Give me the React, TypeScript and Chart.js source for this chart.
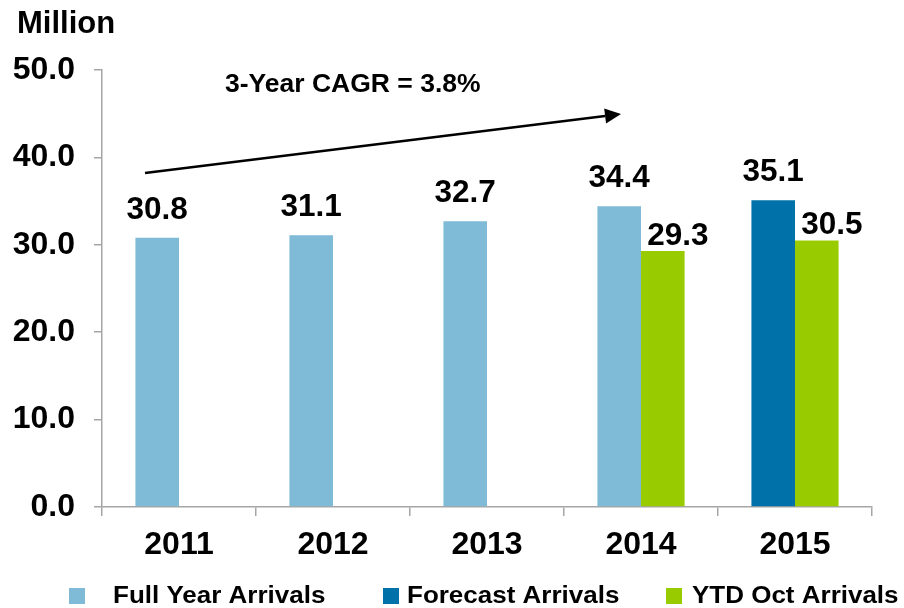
import React, { useEffect, useRef } from "react";
import { Chart, registerables } from "chart.js";

Chart.register(...registerables);

const categories = ["2011", "2012", "2013", "2014", "2015"];
const fullYearArrivals = [30.8, 31.1, 32.7, 34.4, null];
const forecastArrivals = [null, null, null, null, 35.1];
const ytdOctArrivals = [null, null, null, 29.3, 30.5];
const seriesNames = ["Full Year Arrivals", "Forecast Arrivals", "YTD Oct Arrivals"];
const seriesColors = ["#7FBAD7", "#0071A9", "#99CC00"];
const yTitle = "Million";
const cagrText = "3-Year CAGR = 3.8%";

const FONT = "'Liberation Sans', Arial, Helvetica, sans-serif";
const AXIS_COLOR = "#A6A6A6";

const overlayPlugin = {
  id: "overlay",
  afterDraw(chart: any) {
    const ctx = chart.ctx as CanvasRenderingContext2D;
    ctx.save();
    ctx.fillStyle = "#000";

    // y-axis title
    ctx.font = `bold 31px ${FONT}`;
    ctx.textAlign = "left";
    ctx.textBaseline = "alphabetic";
    ctx.fillText(yTitle, 17, 33);

    // data labels
    ctx.font = `bold 31.5px ${FONT}`;
    ctx.textAlign = "center";
    chart.data.datasets.forEach((ds: any, di: number) => {
      const meta = chart.getDatasetMeta(di);
      meta.data.forEach((bar: any, i: number) => {
        const v = ds.data[i];
        if (v === null || v === undefined) return;
        const isYtd = di === 2;
        const dx = isYtd ? 15 : 0;
        const dy = isYtd ? 6 : 19;
        ctx.fillText(v.toFixed(1), bar.x + dx, bar.y - dy);
      });
    });

    // CAGR annotation
    ctx.font = `bold 26.5px ${FONT}`;
    ctx.textAlign = "left";
    ctx.fillText(cagrText, 225, 92);

    const x1 = 145, y1 = 173, x2 = 621, y2 = 114;
    const ang = Math.atan2(y2 - y1, x2 - x1);
    const headLen = 16, headHalf = 7.5;
    const bx = x2 - headLen * Math.cos(ang);
    const by = y2 - headLen * Math.sin(ang);
    ctx.strokeStyle = "#000";
    ctx.lineWidth = 2.5;
    ctx.beginPath();
    ctx.moveTo(x1, y1);
    ctx.lineTo(bx, by);
    ctx.stroke();
    ctx.beginPath();
    ctx.moveTo(x2, y2);
    ctx.lineTo(bx + headHalf * Math.sin(ang), by - headHalf * Math.cos(ang));
    ctx.lineTo(bx - headHalf * Math.sin(ang), by + headHalf * Math.cos(ang));
    ctx.closePath();
    ctx.fill();

    // legend
    const markers = [69, 383, 666];
    const texts = [113, 407, 692];
    ctx.font = `bold 23px ${FONT}`;
    seriesNames.forEach((name, i) => {
      ctx.fillStyle = seriesColors[i];
      ctx.fillRect(markers[i], 588, 16, 16);
      ctx.fillStyle = "#000";
      ctx.save();
      ctx.translate(texts[i], 603);
      ctx.scale(1.13, 1);
      ctx.fillText(name, 0, 0);
      ctx.restore();
    });

    ctx.restore();
  },
};

export default function App() {
  const canvasRef = useRef<HTMLCanvasElement | null>(null);

  useEffect(() => {
    if (!canvasRef.current) return;
    const chart = new Chart(canvasRef.current, {
      type: "bar",
      data: {
        labels: categories,
        datasets: [
          { label: seriesNames[0], data: fullYearArrivals, backgroundColor: seriesColors[0], stack: "a" },
          { label: seriesNames[1], data: forecastArrivals, backgroundColor: seriesColors[1], stack: "a" },
          { label: seriesNames[2], data: ytdOctArrivals, backgroundColor: seriesColors[2], stack: "b" },
        ] as any,
      },
      options: {
        animation: false,
        responsive: false,
        maintainAspectRatio: false,
        datasets: { bar: { categoryPercentage: 0.566, barPercentage: 1 } } as any,
        layout: { padding: { top: 70, left: 0, right: 32, bottom: 0 } },
        plugins: { legend: { display: false }, tooltip: { enabled: false } },
        scales: {
          x: {
            stacked: true,
            grid: {
              offset: true,
              drawOnChartArea: false,
              drawTicks: true,
              tickLength: 9,
              color: AXIS_COLOR,
              lineWidth: 1.5,
            },
            border: { color: AXIS_COLOR, width: 1.5 },
            ticks: {
              color: "#000",
              padding: 10,
              font: { family: FONT, size: 32, weight: "bold" },
            },
            afterFit(scale: any) {
              scale.height = 101;
            },
          },
          y: {
            stacked: true,
            min: 0,
            max: 50,
            grid: {
              drawOnChartArea: false,
              drawTicks: true,
              tickLength: 8,
              color: AXIS_COLOR,
              lineWidth: 1.5,
            },
            border: { color: AXIS_COLOR, width: 1.5 },
            ticks: {
              stepSize: 10,
              color: "#000",
              padding: 19,
              font: { family: FONT, size: 32, weight: "bold" },
              callback: (v: any) => Number(v).toFixed(1),
            },
            afterFit(scale: any) {
              scale.width = 102;
            },
          },
        },
      },
      plugins: [overlayPlugin],
    });
    return () => chart.destroy();
  }, []);

  return (
    <div style={{ position: "fixed", left: 0, top: 0, width: 904, height: 608, background: "#fff" }}>
      <canvas ref={canvasRef} width={904} height={608} style={{ width: 904, height: 608, display: "block" }} />
    </div>
  );
}
